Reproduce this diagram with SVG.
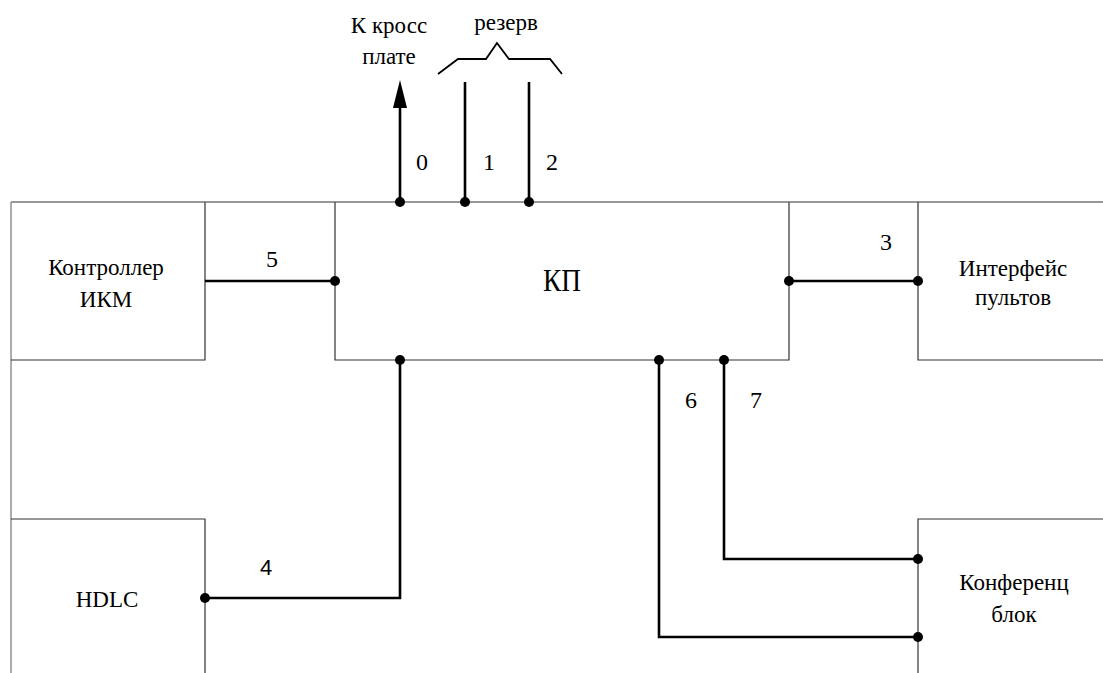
<svg xmlns="http://www.w3.org/2000/svg" width="1103" height="673" viewBox="0 0 1103 673">
  <style>
    .frame { fill: none; stroke: #333; stroke-width: 1.2; }
    .frame-light { fill: none; stroke: #888; stroke-width: 1.4; }
    .wire { fill: none; stroke: #000; stroke-width: 2.6; stroke-linejoin: miter; }
    .brace { fill: none; stroke: #000; stroke-width: 1.8; }
    .dot { fill: #000; }
    text { fill: #000; text-anchor: middle; }
  </style>

  <rect width="1103" height="673" fill="#fff"/>

  <!-- shared top rule of the block row -->
  <line class="frame" x1="11" y1="202" x2="1103" y2="202"/>
  <!-- outer left edge down the whole sheet -->
  <line class="frame-light" x1="11" y1="202" x2="11" y2="673"/>

  <g font-family="'Liberation Serif', 'Times New Roman', serif" font-size="23">
    <g id="node-ikm">
      <path class="frame" d="M205,202 V360 H11"/>
      <text x="106" y="275">Контроллер</text>
      <text x="106" y="307">ИКМ</text>
    </g>

    <g id="node-kp">
      <path class="frame" d="M335,202 V360 H789 V202"/>
      <text transform="translate(562,291) scale(0.88,1)" font-size="31">КП</text>
    </g>

    <g id="node-consoles">
      <path class="frame" d="M918,202 V360 H1103"/>
      <text x="1013" y="276">Интерфейс</text>
      <text x="1013" y="305">пультов</text>
    </g>

    <g id="node-hdlc">
      <path class="frame" d="M11,519 H205 V673"/>
      <text x="107" y="607">HDLC</text>
    </g>

    <g id="node-conf">
      <path class="frame" d="M1103,519 H918 V673"/>
      <text x="1014" y="590">Конференц</text>
      <text x="1014" y="622">блок</text>
    </g>

    <g id="node-cross">
      <text x="389" y="33">К кросс</text>
      <text x="389" y="64">плате</text>
    </g>

    <g id="node-reserve">
      <path class="brace" d="M438,74 L458,59 L486,59 L497,43 L509,59 L550,59 L562,74"/>
      <text x="506" y="30">резерв</text>
    </g>

    <g id="connectors">
      <!-- 0: up to the cross board -->
      <line class="wire" x1="400" y1="202" x2="400" y2="104"/>
      <path d="M400,80 L407,108 L393,108 Z" fill="#000"/>
      <!-- 1, 2: reserve -->
      <line class="wire" x1="465" y1="202" x2="465" y2="82"/>
      <line class="wire" x1="529" y1="202" x2="529" y2="82"/>
      <!-- 5 -->
      <line class="wire" x1="205" y1="281" x2="335" y2="281"/>
      <!-- 3 -->
      <line class="wire" x1="789" y1="281" x2="918" y2="281"/>
      <!-- 4 -->
      <path class="wire" d="M400,360 V598 H205"/>
      <!-- 6 -->
      <path class="wire" d="M659,360 V637 H918"/>
      <!-- 7 -->
      <path class="wire" d="M724,360 V559 H918"/>

      <g class="dot">
        <circle cx="400" cy="202" r="5"/>
        <circle cx="465" cy="202" r="5"/>
        <circle cx="529" cy="202" r="5"/>
        <circle cx="335" cy="281" r="5"/>
        <circle cx="789" cy="281" r="5"/>
        <circle cx="918" cy="281" r="5"/>
        <circle cx="400" cy="360" r="5"/>
        <circle cx="205" cy="598" r="5"/>
        <circle cx="659" cy="360" r="5"/>
        <circle cx="724" cy="360" r="5"/>
        <circle cx="918" cy="559" r="5"/>
        <circle cx="918" cy="637" r="5"/>
      </g>

      <g font-size="24">
        <text x="422" y="170">0</text>
        <text x="489" y="170">1</text>
        <text x="552" y="170">2</text>
        <text x="272" y="267">5</text>
        <text x="886" y="250">3</text>
        <text x="266" y="575" font-family="'Liberation Sans', Arial, sans-serif" font-size="22">4</text>
        <text x="691" y="408">6</text>
        <text x="756" y="408">7</text>
      </g>
    </g>
  </g>
</svg>
